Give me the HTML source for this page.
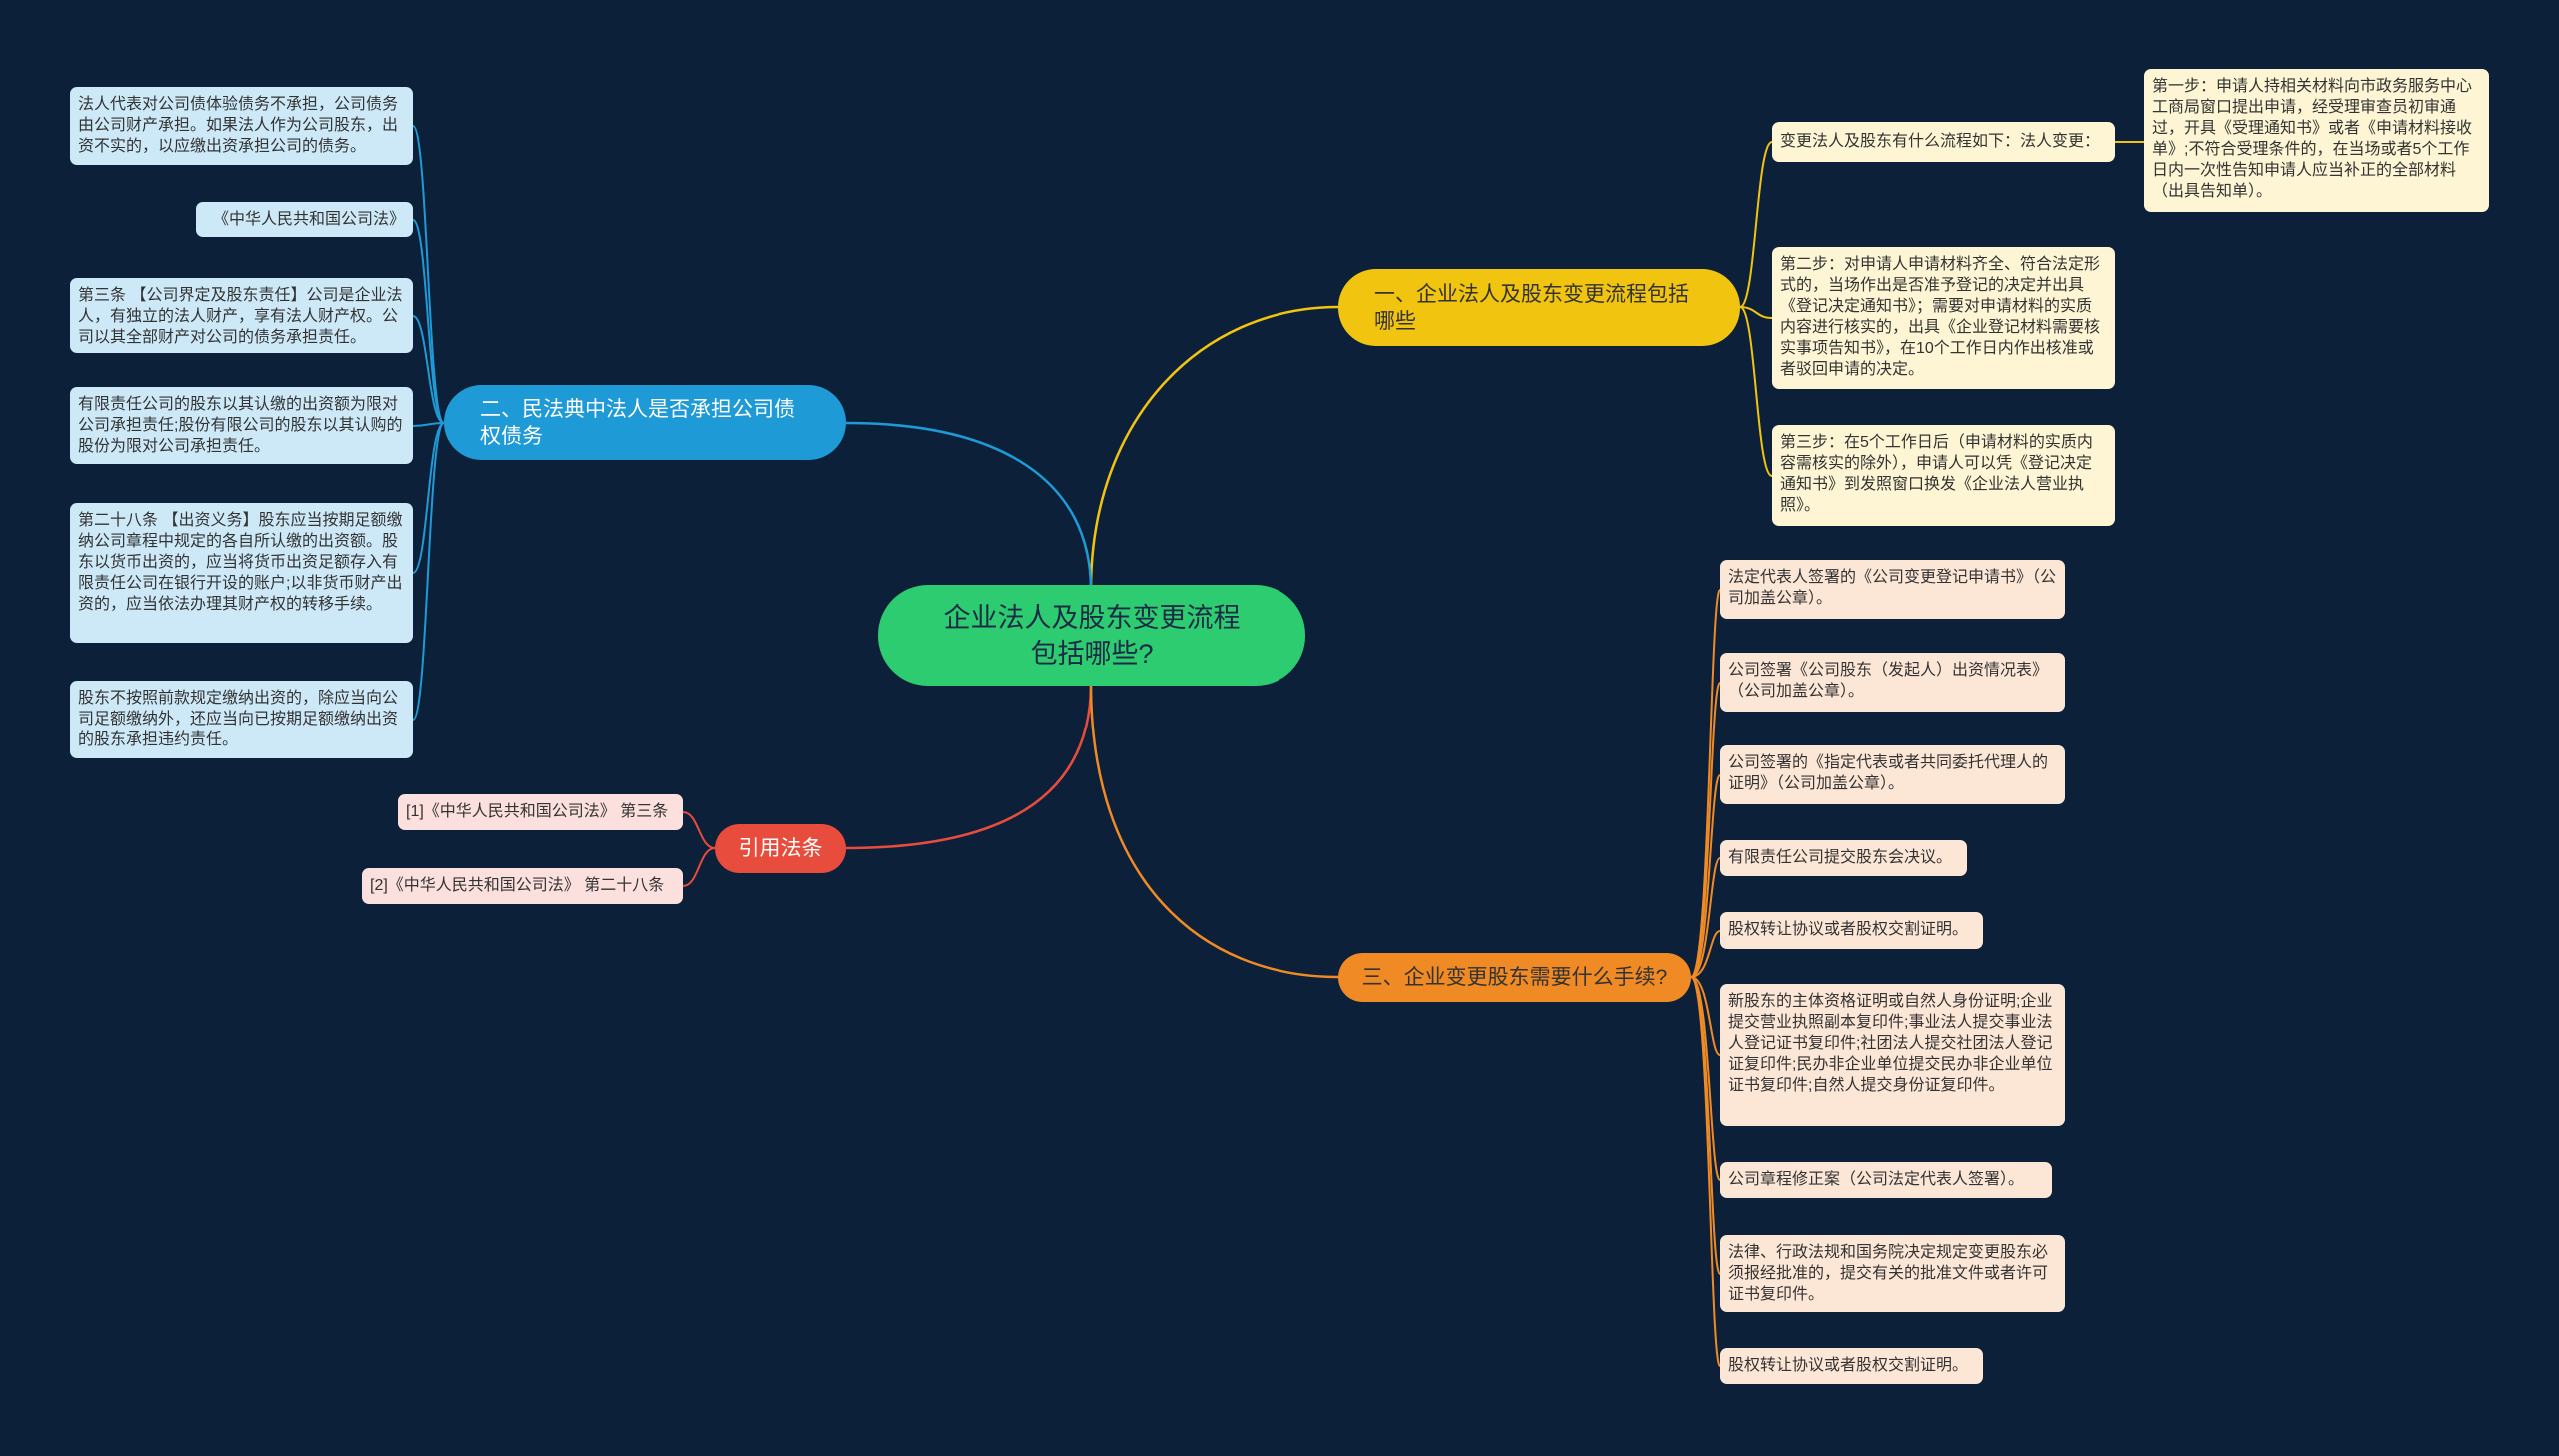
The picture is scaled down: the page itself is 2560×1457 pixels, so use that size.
<!DOCTYPE html>
<html><head><meta charset="utf-8"><style>
body{margin:0;width:2560px;height:1457px;background:#0d2039;position:relative;overflow:hidden;font-family:"Liberation Sans","Noto Sans CJK SC",sans-serif}
.b{position:absolute;box-sizing:border-box;border-radius:7px;color:#333;font-size:16px;line-height:21px;padding:7px 8px 5px;overflow:hidden}
.lb{background:#cde9f8}.ly{background:#fdf5d4}.lo{background:#fce6d6}.lr{background:#fbe0dd;font-size:16px}
.nw{white-space:nowrap}
.n{position:absolute;box-sizing:border-box;display:flex;align-items:center;font-size:21px;line-height:27px}
svg{position:absolute;left:0;top:0}
</style></head><body>
<svg width="2560" height="1457" fill="none" stroke-width="2.5">
<path d="M1091,590 C1091,420 1200,307 1339,307" stroke="#f1c40f"/>
<path d="M1091,590 C1091,480 1000,423 846,423" stroke="#1e9ad6"/>
<path d="M1091,684 C1091,800 1000,849 846,849" stroke="#e74c3c"/>
<path d="M1091,684 C1091,880 1200,978 1339,978" stroke="#f08a24"/>
<g stroke="#f1c40f" stroke-width="2">
<path d="M1741,307 C1757,307 1757,142 1773,142"/><path d="M1741,307 C1757,307 1757,318 1773,318"/><path d="M1741,307 C1757,307 1757,476 1773,476"/><path d="M2116,142 L2145,142"/></g>
<g stroke="#1e9ad6" stroke-width="2">
<path d="M444,423 C428,423 428,126 413,126"/><path d="M444,423 C428,423 428,220 413,220"/><path d="M444,423 C428,423 428,316 413,316"/><path d="M444,423 C428,423 428,426 413,426"/><path d="M444,423 C428,423 428,573 413,573"/><path d="M444,423 C428,423 428,720 413,720"/></g>
<g stroke="#e74c3c" stroke-width="2"><path d="M715,849 C699,849 699,813 683,813"/><path d="M715,849 C699,849 699,887 683,887"/></g>
<g stroke="#f08a24" stroke-width="2">
<path d="M1692,978 C1711,978 1711,590 1721,590"/><path d="M1692,978 C1711,978 1711,683 1721,683"/><path d="M1692,978 C1711,978 1711,776 1721,776"/><path d="M1692,978 C1711,978 1711,859 1721,859"/><path d="M1692,978 C1711,978 1711,932 1721,932"/><path d="M1692,978 C1711,978 1711,1056 1721,1056"/><path d="M1692,978 C1711,978 1711,1181 1721,1181"/><path d="M1692,978 C1711,978 1711,1275 1721,1275"/><path d="M1692,978 C1711,978 1711,1367 1721,1367"/></g>
</svg>
<div class="n" style="left:878px;top:585px;width:428px;height:101px;background:#2ecc71;border-radius:50px;justify-content:center;text-align:center;color:#1b2b45;font-size:27px;line-height:36px">企业法人及股东变更流程<br>包括哪些?</div>
<div class="n" style="left:1339px;top:269px;width:402px;height:77px;background:#f1c40f;border-radius:38px;padding:0 36px;color:#333">一、企业法人及股东变更流程包括哪些</div>
<div class="n" style="left:444px;top:385px;width:402px;height:75px;background:#1e9ad6;border-radius:38px;padding:0 36px;color:#fff">二、民法典中法人是否承担公司债权债务</div>
<div class="n" style="left:1339px;top:954px;width:353px;height:49px;background:#f08a24;border-radius:25px;justify-content:center;color:#333">三、企业变更股东需要什么手续?</div>
<div class="n" style="left:715px;top:825px;width:131px;height:49px;background:#e74c3c;border-radius:25px;justify-content:center;color:#fff">引用法条</div>

<div class="b lb" style="left:70px;top:87px;width:343px;height:78px">法人代表对公司债体验债务不承担，公司债务由公司财产承担。如果法人作为公司股东，出资不实的，以应缴出资承担公司的债务。</div>
<div class="b lb" style="left:196px;top:202px;width:217px;height:35px;text-align:right">《中华人民共和国公司法》</div>
<div class="b lb" style="left:70px;top:278px;width:343px;height:75px">第三条 【公司界定及股东责任】公司是企业法人，有独立的法人财产，享有法人财产权。公司以其全部财产对公司的债务承担责任。</div>
<div class="b lb" style="left:70px;top:387px;width:343px;height:77px">有限责任公司的股东以其认缴的出资额为限对公司承担责任;股份有限公司的股东以其认购的股份为限对公司承担责任。</div>
<div class="b lb" style="left:70px;top:503px;width:343px;height:140px">第二十八条 【出资义务】股东应当按期足额缴纳公司章程中规定的各自所认缴的出资额。股东以货币出资的，应当将货币出资足额存入有限责任公司在银行开设的账户;以非货币财产出资的，应当依法办理其财产权的转移手续。</div>
<div class="b lb" style="left:70px;top:681px;width:343px;height:78px">股东不按照前款规定缴纳出资的，除应当向公司足额缴纳外，还应当向已按期足额缴纳出资的股东承担违约责任。</div>

<div class="b lr nw" style="left:398px;top:795px;width:285px;height:36px">[1]《中华人民共和国公司法》 第三条</div>
<div class="b lr nw" style="left:362px;top:869px;width:321px;height:36px">[2]《中华人民共和国公司法》 第二十八条</div>

<div class="b ly nw" style="left:1773px;top:122px;width:343px;height:40px;padding-top:9px">变更法人及股东有什么流程如下：法人变更：</div>
<div class="b ly" style="left:2145px;top:69px;width:345px;height:143px">第一步：申请人持相关材料向市政务服务中心工商局窗口提出申请，经受理审查员初审通过，开具《受理通知书》或者《申请材料接收单》;不符合受理条件的，在当场或者5个工作日内一次性告知申请人应当补正的全部材料（出具告知单）。</div>
<div class="b ly" style="left:1773px;top:247px;width:343px;height:142px">第二步：对申请人申请材料齐全、符合法定形式的，当场作出是否准予登记的决定并出具《登记决定通知书》；需要对申请材料的实质内容进行核实的，出具《企业登记材料需要核实事项告知书》，在10个工作日内作出核准或者驳回申请的决定。</div>
<div class="b ly" style="left:1773px;top:425px;width:343px;height:101px">第三步：在5个工作日后（申请材料的实质内容需核实的除外），申请人可以凭《登记决定通知书》到发照窗口换发《企业法人营业执照》。</div>

<div class="b lo" style="left:1721px;top:560px;width:345px;height:59px">法定代表人签署的《公司变更登记申请书》（公司加盖公章）。</div>
<div class="b lo" style="left:1721px;top:653px;width:345px;height:59px">公司签署《公司股东（发起人）出资情况表》（公司加盖公章）。</div>
<div class="b lo" style="left:1721px;top:746px;width:345px;height:59px">公司签署的《指定代表或者共同委托代理人的证明》（公司加盖公章）。</div>
<div class="b lo nw" style="left:1721px;top:841px;width:247px;height:36px">有限责任公司提交股东会决议。</div>
<div class="b lo nw" style="left:1721px;top:913px;width:263px;height:37px">股权转让协议或者股权交割证明。</div>
<div class="b lo" style="left:1721px;top:985px;width:345px;height:142px">新股东的主体资格证明或自然人身份证明;企业提交营业执照副本复印件;事业法人提交事业法人登记证书复印件;社团法人提交社团法人登记证复印件;民办非企业单位提交民办非企业单位证书复印件;自然人提交身份证复印件。</div>
<div class="b lo nw" style="left:1721px;top:1163px;width:332px;height:36px">公司章程修正案（公司法定代表人签署）。</div>
<div class="b lo" style="left:1721px;top:1236px;width:345px;height:77px">法律、行政法规和国务院决定规定变更股东必须报经批准的，提交有关的批准文件或者许可证书复印件。</div>
<div class="b lo nw" style="left:1721px;top:1349px;width:263px;height:36px">股权转让协议或者股权交割证明。</div>
</body></html>
